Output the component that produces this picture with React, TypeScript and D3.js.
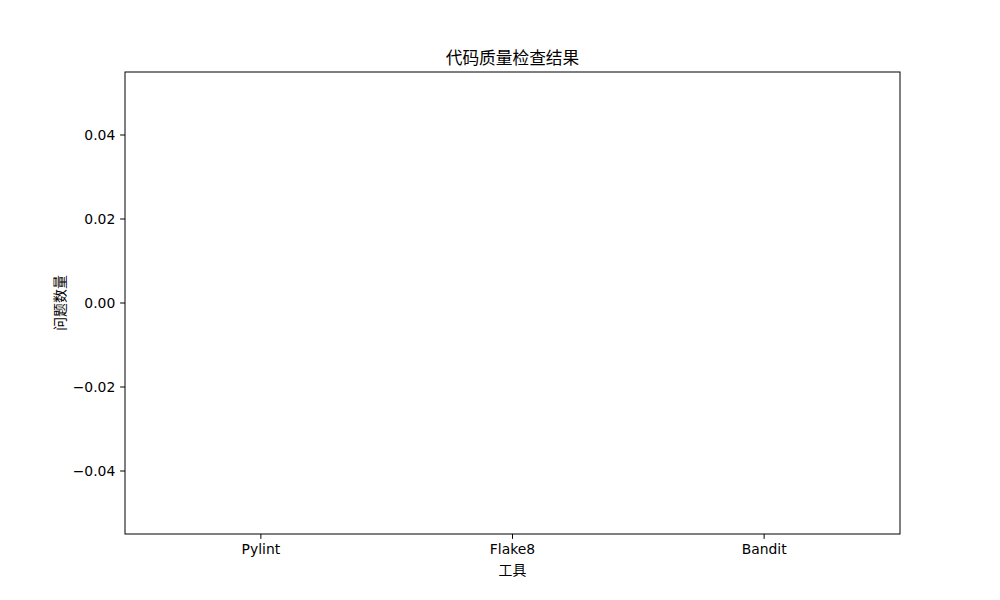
import React from "react";
import * as d3 from "d3";

const categories: string[] = ["Pylint", "Flake8", "Bandit"];
const issueCounts: number[] = [0, 0, 0];
const yTicks: number[] = [-0.04, -0.02, 0.0, 0.02, 0.04];
const titleText = "代码质量检查结果";
const xLabelText = "工具";
const yLabelText = "问题数量";

const W = 1000;
const H = 600;
const M = { left: 125, right: 900, top: 72, bottom: 534 };
const FONT = "'DejaVu Sans', 'Noto Sans CJK SC', sans-serif";

export default function App() {
  const x = d3.scaleLinear().domain([-0.54, 2.54]).range([M.left, M.right]);
  const y = d3.scaleLinear().domain([-0.055, 0.055]).range([M.bottom, M.top]);
  const fmt = (v: number) => d3.format(".2f")(v).replace("-", "\u2212");
  const barW = x(0.8) - x(0);
  return (
    <svg width={W} height={H} style={{ position: "absolute", left: 0, top: 0, background: "#fff" }} fontFamily={FONT}>
      <rect x={0} y={0} width={W} height={H} fill="#fff" />
      {issueCounts.map((v, i) => (
        <rect key={i} x={x(i) - barW / 2} y={Math.min(y(v), y(0))} width={barW} height={Math.abs(y(v) - y(0))} fill="#1f77b4" />
      ))}
      <rect x={M.left} y={M.top} width={M.right - M.left} height={M.bottom - M.top} fill="none" stroke="#000" strokeWidth={1} />
      {yTicks.map((t) => (
        <g key={t}>
          <line x1={M.left - 4.86} x2={M.left} y1={y(t)} y2={y(t)} stroke="#000" strokeWidth={1} />
          <text x={M.left - 9.7} y={y(t)} dy="0.35em" textAnchor="end" fontSize={13.9} fill="#000">{fmt(t)}</text>
        </g>
      ))}
      {categories.map((c, i) => (
        <g key={c}>
          <line x1={x(i)} x2={x(i)} y1={M.bottom} y2={M.bottom + 4.86} stroke="#000" strokeWidth={1} />
          <text x={x(i)} y={M.bottom + 9.7} dy="0.76em" textAnchor="middle" fontSize={13.9} fill="#000">{c}</text>
        </g>
      ))}
      <text x={(M.left + M.right) / 2} y={M.top - 8.3} textAnchor="middle" fontSize={16.7} fill="#000">{titleText}</text>
      <text x={(M.left + M.right) / 2} y={575} textAnchor="middle" fontSize={13.9} fill="#000">{xLabelText}</text>
      <text transform={`translate(65, ${(M.top + M.bottom) / 2}) rotate(-90)`} textAnchor="middle" fontSize={13.9} fill="#000">{yLabelText}</text>
    </svg>
  );
}
